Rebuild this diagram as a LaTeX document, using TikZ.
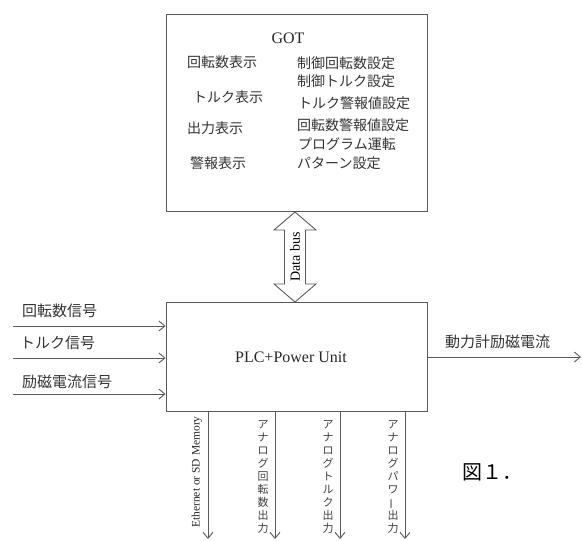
\documentclass[tikz,border=0pt]{standalone}
\usepackage{fontspec}
\setmainfont{Liberation Serif}
\newfontfamily\jp{Noto Sans CJK JP}
\usetikzlibrary{arrows.meta}
\begin{document}
\begin{tikzpicture}[x=1pt,y=-1pt,
  ln/.style={draw=black!65,line width=0.9pt},
  arr/.style={ln,-{Straight Barb[length=6pt,width=10pt]}},
  box/.style={ln,rectangle,inner sep=0pt},
  jtxt/.style={font=\jp\fontsize{14}{16}\selectfont,text=black!80,inner sep=0pt,anchor=west},
  stxt/.style={font=\jp\fontsize{15}{17}\selectfont,text=black!80,inner sep=0pt,anchor=west},
  vtxt/.style={font=\jp\fontsize{11}{12.9}\selectfont,text=black!75,inner sep=0pt,align=center},
  etxt/.style={font=\fontsize{16}{18}\selectfont,text=black!85,inner sep=0pt}]
\useasboundingbox (0,0) rectangle (582,541);
% boxes
\node[box,minimum width=261.5pt,minimum height=197pt] (got) at (296.75,112.5) {};
\node[box,minimum width=261.5pt,minimum height=109pt] (plc) at (296.75,356.5) {};
\node[etxt] (gottitle) at (288,38) {GOT};
\node[etxt] (plctitle) at (291,357) {PLC+Power Unit};
% GOT texts
\node[jtxt] (l1) at (187,62) {回転数表示};
\node[jtxt] (l2) at (193,97) {トルク表示};
\node[jtxt] (l3) at (187,128) {出力表示};
\node[jtxt] (l4) at (190,163) {警報表示};
\node[jtxt] (r1) at (297,63) {制御回転数設定};
\node[jtxt] (r2) at (297,81) {制御トルク設定};
\node[jtxt] (r3) at (298,103) {トルク警報値設定};
\node[jtxt] (r4) at (297,125) {回転数警報値設定};
\node[jtxt] (r5) at (298,144) {プログラム運転};
\node[jtxt] (r6) at (297,163) {パターン設定};
% data bus
\draw[ln,fill=white] (295,212) -- (316,230) -- (305.5,230) -- (305.5,284) -- (316,284)
  -- (295,302) -- (274,284) -- (284.5,284) -- (284.5,230) -- (274,230) -- cycle;
\node[font=\fontsize{14}{16}\selectfont,rotate=90,inner sep=0pt] (db) at (295,257) {Data bus};
% inputs
\coordinate (i1) at (13,326);
\coordinate (i2) at (13,358);
\coordinate (i3) at (13,394);
\draw[arr] (i1) -- (i1 -| plc.west);
\draw[arr] (i2) -- (i2 -| plc.west);
\draw[arr] (i3) -- (i3 -| plc.west);
\node[stxt] (t1) at (22,311) {回転数信号};
\node[stxt] (t2) at (20,343) {トルク信号};
\node[stxt] (t3) at (22,382) {励磁電流信号};
% output
\coordinate (o1) at (581,357);
\draw[arr] (o1 -| plc.east) -- (o1);
\node[stxt] (t4) at (445,342) {動力計励磁電流};
% bottom outputs
\coordinate (b1) at (208,539);
\coordinate (b2) at (275,539);
\coordinate (b3) at (340,539);
\coordinate (b4) at (405,539);
\draw[arr] (b1 |- plc.south) -- (b1);
\draw[arr] (b2 |- plc.south) -- (b2);
\draw[arr] (b3 |- plc.south) -- (b3);
\draw[arr] (b4 |- plc.south) -- (b4);
\node[font=\fontsize{11.5}{13}\selectfont,rotate=90,inner sep=0pt,text=black!85] (eth) at (197,472) {Ethernet or SD Memory};
\node[vtxt] (v1) at (263,477) {ア\\ナ\\ロ\\グ\\回\\転\\数\\出\\力};
\node[vtxt] (v2) at (328,477) {ア\\ナ\\ロ\\グ\\ト\\ル\\ク\\出\\力};
\node[vtxt] (v3) at (393,477) {ア\\ナ\\ロ\\グ\\パ\\ワ\\\rotatebox[origin=c]{90}{ー}\\出\\力};
% figure label
\node[font=\jp\fontsize{20}{22}\selectfont,inner sep=0pt,anchor=west] (fig) at (462,472) {図１．};
\end{tikzpicture}
\end{document}
